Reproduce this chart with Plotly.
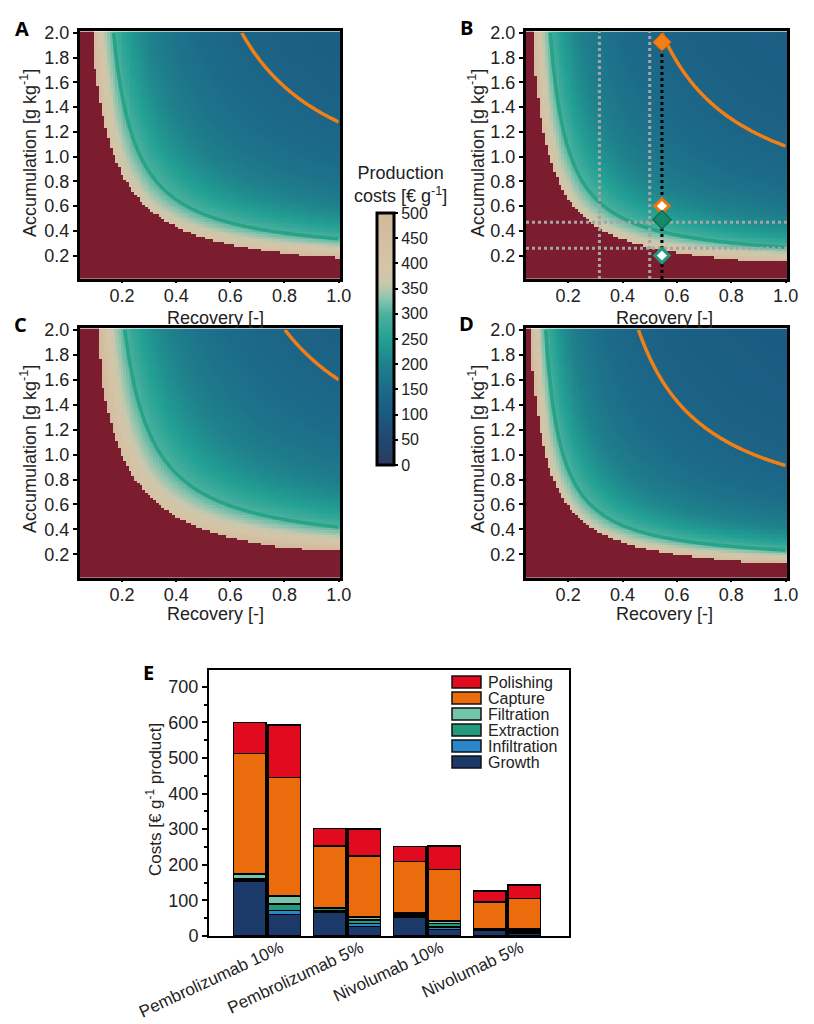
import numpy as np
import plotly.graph_objects as go

W, H = 814, 1024
FONT = "Liberation Sans, Arial, sans-serif"

# ---------------- Panels A-D : production cost maps ----------------
panel_letters = ["A", "B", "C", "D"]
# accumulation [g kg-1] at recovery = 1.0 where the green (300 €/g) and orange iso-cost lines cross
green_line_A_at_R1 = [0.335, 0.267, 0.418, 0.233]
orange_line_A_at_R1 = [1.28, 1.084, 1.60, 0.912]
# smallest recovery x accumulation product still outside the dark-red (> 500 €/g) region
red_min_RA = [0.172, 0.132, 0.200, 0.117]
green_level = 300.0
orange_level = 132.0
red_limit = 500.0
beta = 0.625    # weight of the recovery-only cost term
gamma = 1.226   # weight of the accumulation-only cost term

recovery = np.round(np.arange(0.05, 1.0001, 0.01), 2)
accumulation = np.round(np.arange(0.02, 2.0001, 0.02), 2)

# Panel B annotations
b_orange_filled = (0.545, 1.925)
b_orange_open = (0.545, 0.60)
b_green_filled = (0.545, 0.49)
b_green_open = (0.545, 0.20)
b_gray_vertical_R = [0.315, 0.50]
b_gray_horizontal_A = [0.469, 0.259]

colorbar_ticks = list(range(0, 501, 50))

# ---------------- Panel E : cost breakdown ----------------
categories = ["Pembrolizumab 10%", "Pembrolizumab 5%", "Nivolumab 10%", "Nivolumab 5%"]
growth_a = [155, 68, 53, 15]
growth_b = [60, 27, 18, 8]
infiltration_a = [2, 4, 4, 2]
infiltration_b = [12, 8, 7, 4]
extraction_a = [3, 5, 5, 2]
extraction_b = [18, 10, 10, 5]
filtration_a = [14, 2, 2, 1]
filtration_b = [22, 8, 7, 2]
capture_a = [339, 174, 145, 76]
capture_b = [333, 172, 145, 86]
polishing_a = [87, 49, 42, 30]
polishing_b = [147, 76, 66, 38]

components = [
    ("Growth", growth_a, growth_b, "#1c3a69"),
    ("Infiltration", infiltration_a, infiltration_b, "#2a86c8"),
    ("Extraction", extraction_a, extraction_b, "#239a7c"),
    ("Filtration", filtration_a, filtration_b, "#74c6ab"),
    ("Capture", capture_a, capture_b, "#ea6c0c"),
    ("Polishing", polishing_a, polishing_b, "#e10a1e"),
]

cscale = [
    [0.0, "#2b3a5e"], [0.1, "#22476f"], [0.2, "#1b5a82"], [0.3, "#1c6a89"],
    [0.4, "#1f818c"], [0.5, "#23a194"], [0.6, "#4eb19f"], [0.66, "#8dc4ae"],
    [0.72, "#c8c8ad"], [0.8, "#d6c4a7"], [1.0, "#d1b89c"],
]
RED = "#7b1d2e"
GREEN = "#27a386"
ORANGE = "#f27f16"


def px_x(p):
    return p / W


def px_y(p):
    return 1 - p / H


fig = go.Figure()

# panel domains in pixels (left, right, top, bottom)
panel_px = [(80, 340, 31, 279), (526, 787, 31, 279), (80, 340, 328, 578), (526, 787, 328, 578)]

RR, AA = np.meshgrid(recovery, accumulation)


def to_list(z):
    return [[None if np.isnan(v) else float(v) for v in row] for row in z]


for i, letter in enumerate(panel_letters):
    s_g = (1 + gamma) / green_line_A_at_R1[i] + beta
    s_o = (1 + gamma) / orange_line_A_at_R1[i] + beta
    a = (green_level - orange_level) / (s_g - s_o)
    d = green_level - a * s_g
    cost = d + a * (1.0 / (RR * AA) + beta / RR + gamma / AA)
    is_red = (cost > red_limit) | (RR * AA < red_min_RA[i])
    sfx = "" if i == 0 else str(i + 1)
    xa, ya = "x" + sfx, "y" + sfx
    red_z = np.where(is_red, 1.0, np.nan)
    main_z = np.where(is_red, np.nan, np.minimum(cost, red_limit))
    fig.add_trace(go.Heatmap(x=recovery, y=accumulation, z=to_list(red_z),
                             colorscale=[[0, RED], [1, RED]], showscale=False,
                             hoverinfo="skip", xaxis=xa, yaxis=ya))
    fig.add_trace(go.Heatmap(x=recovery, y=accumulation, z=to_list(main_z),
                             coloraxis="coloraxis", xaxis=xa, yaxis=ya))
    for lvl, col in [(green_level, GREEN), (orange_level, ORANGE)]:
        fig.add_trace(go.Contour(x=recovery, y=accumulation, z=cost.tolist(),
                                 contours=dict(start=lvl, end=lvl, size=1, coloring="lines"),
                                 colorscale=[[0, col], [1, col]], line=dict(width=3.5, color=col),
                                 showscale=False, hoverinfo="skip", xaxis=xa, yaxis=ya))

# Panel B guide lines and markers
for r in b_gray_vertical_R:
    fig.add_trace(go.Scatter(x=[r, r], y=[0.01, 2.015], mode="lines",
                             line=dict(color="#a5a5a5", width=3, dash="dot"),
                             xaxis="x2", yaxis="y2", showlegend=False, hoverinfo="skip"))
for av in b_gray_horizontal_A:
    fig.add_trace(go.Scatter(x=[0.045, 1.005], y=[av, av], mode="lines",
                             line=dict(color="#a5a5a5", width=3, dash="dot"),
                             xaxis="x2", yaxis="y2", showlegend=False, hoverinfo="skip"))
fig.add_trace(go.Scatter(x=[b_orange_filled[0], b_orange_filled[0]], y=[0.01, b_orange_filled[1]],
                         mode="lines", line=dict(color="black", width=3, dash="dot"),
                         xaxis="x2", yaxis="y2", showlegend=False, hoverinfo="skip"))
for (pt, fill, edge, sz, lw) in [(b_orange_filled, ORANGE, "#d8600a", 14, 1),
                                  (b_orange_open, "white", "#ee7410", 11, 3),
                                  (b_green_filled, "#14896b", "#0e7257", 14, 1.5),
                                  (b_green_open, "white", "#1f9a7c", 11, 3)]:
    fig.add_trace(go.Scatter(x=[pt[0]], y=[pt[1]], mode="markers",
                             marker=dict(symbol="diamond", size=sz, color=fill,
                                         line=dict(color=edge, width=lw)),
                             xaxis="x2", yaxis="y2", showlegend=False, hoverinfo="skip"))

# Panel E bars
offs = 0.215
xpos = [k - offs for k in range(len(categories))] + [k + offs for k in range(len(categories))]
for name, va, vb, col in components:
    fig.add_trace(go.Bar(x=xpos, y=va + vb, name=name, width=0.41, showlegend=False,
                         marker=dict(color=col, line=dict(color="black", width=1.5)),
                         xaxis="x5", yaxis="y5"))

axis_common = dict(showline=True, linewidth=3, linecolor="black", mirror=True, automargin=False,
                   ticks="outside", ticklen=4, tickwidth=2, tickcolor="black",
                   showgrid=False, zeroline=False, tickfont=dict(size=18, color="#222"))
layout = dict(width=W, height=H, margin=dict(l=0, r=0, t=0, b=0, autoexpand=False),
              paper_bgcolor="white", plot_bgcolor="white",
              font=dict(family=FONT, size=18, color="#222"),
              barmode="stack", showlegend=False)

for i, (l, r, t, b) in enumerate(panel_px):
    sfx = "" if i == 0 else str(i + 1)
    layout["xaxis" + sfx] = dict(axis_common, domain=[px_x(l), px_x(r)], range=[0.045, 1.005],
                                 tickvals=[0.2, 0.4, 0.6, 0.8, 1.0], ticktext=["0.2", "0.4", "0.6", "0.8", "1.0"],
                                 ticklen=1, ticklabelstandoff=-3, anchor="y" + sfx)
    layout["yaxis" + sfx] = dict(axis_common, domain=[px_y(b), px_y(t)], range=[0.01, 2.015],
                                 tickvals=[0.2 * k for k in range(1, 11)],
                                 ticktext=["%.1f" % (0.2 * k) for k in range(1, 11)],
                                 anchor="x" + sfx)

layout["xaxis5"] = dict(domain=[px_x(209), px_x(569)], range=[-0.725, 3.775], anchor="y5", automargin=False,
                        tickvals=list(range(len(categories))), ticktext=categories, tickangle=-25,
                        ticklabelshift=14, ticklabelstandoff=-6,
                        showline=True, linewidth=2, linecolor="black", mirror=True, ticks="",
                        showgrid=False, zeroline=False, tickfont=dict(size=17, color="#222"))
layout["yaxis5"] = dict(domain=[px_y(936), px_y(670)], range=[0, 747], anchor="x5", automargin=False,
                        dtick=100, showline=True, linewidth=2, linecolor="black", mirror=True,
                        ticks="outside", ticklen=5, tickwidth=1.5, tickcolor="black",
                        minor=dict(dtick=50, ticks="outside", ticklen=3, tickcolor="black"),
                        showgrid=False, zeroline=False, tickfont=dict(size=18, color="#222"))

layout["coloraxis"] = dict(cmin=0, cmax=500, colorscale=cscale,
                           colorbar=dict(x=px_x(377), xanchor="left", y=px_y(213), yanchor="top",
                                         len=252, lenmode="pixels", thickness=17, thicknessmode="pixels",
                                         outlinewidth=3, outlinecolor="black", tickvals=colorbar_ticks,
                                         ticks="outside", ticklen=3, tickwidth=2, tickcolor="black",
                                         tickfont=dict(size=16, color="#222"), xpad=0, ypad=0))

annotations = []
shapes = []


def ann(text, cx, cy, size=18, angle=0, xanchor="center", family=None, color="#222"):
    f = dict(size=size, color=color)
    if family:
        f["family"] = family
    annotations.append(dict(text=text, x=px_x(cx), y=px_y(cy), xref="paper", yref="paper",
                            xanchor=xanchor, yanchor="middle", showarrow=False, textangle=angle,
                            font=f, align="center"))


for txt, (cx, cy) in zip(["A", "B", "C", "D", "E"],
                         [(22, 28), (466, 27), (20, 324), (466, 323), (148, 672)]):
    ann("<b>%s</b>" % txt, cx, cy, size=20, family="Open Sans, Liberation Sans, sans-serif", color="black")

# axis titles
for (cx, cy) in [(216, 318), (664, 318), (216, 614), (664, 614)]:
    ann("Recovery [-]", cx, cy)
for (cx, cy) in [(28, 153), (476, 153), (28, 449), (476, 449)]:
    ann("Accumulation [g kg<sup>-1</sup>]", cx, cy, angle=-90)
ann("Costs [€ g<sup>-1</sup> product]", 154, 800, size=17, angle=-90)
ann("Production<br>costs [€ g<sup>-1</sup>]", 400, 184)

# legend for panel E (top entry = top of the stack)
for j, (name, va, vb, col) in enumerate(reversed(components)):
    cy = 682 + 16 * j
    shapes.append(dict(type="rect", xref="paper", yref="paper",
                       x0=px_x(452), x1=px_x(481), y0=px_y(cy + 6), y1=px_y(cy - 6),
                       fillcolor=col, line=dict(color="#111", width=1.5)))
    ann(name, 486, cy, size=16, xanchor="left",
        family="Liberation Sans Narrow, Liberation Sans, Arial, sans-serif")

layout["annotations"] = annotations
layout["shapes"] = shapes

fig.update_layout(**layout)
fig.write_html("out.html", config={"displayModeBar": False},
               post_script="document.body.style.margin='0px';")
